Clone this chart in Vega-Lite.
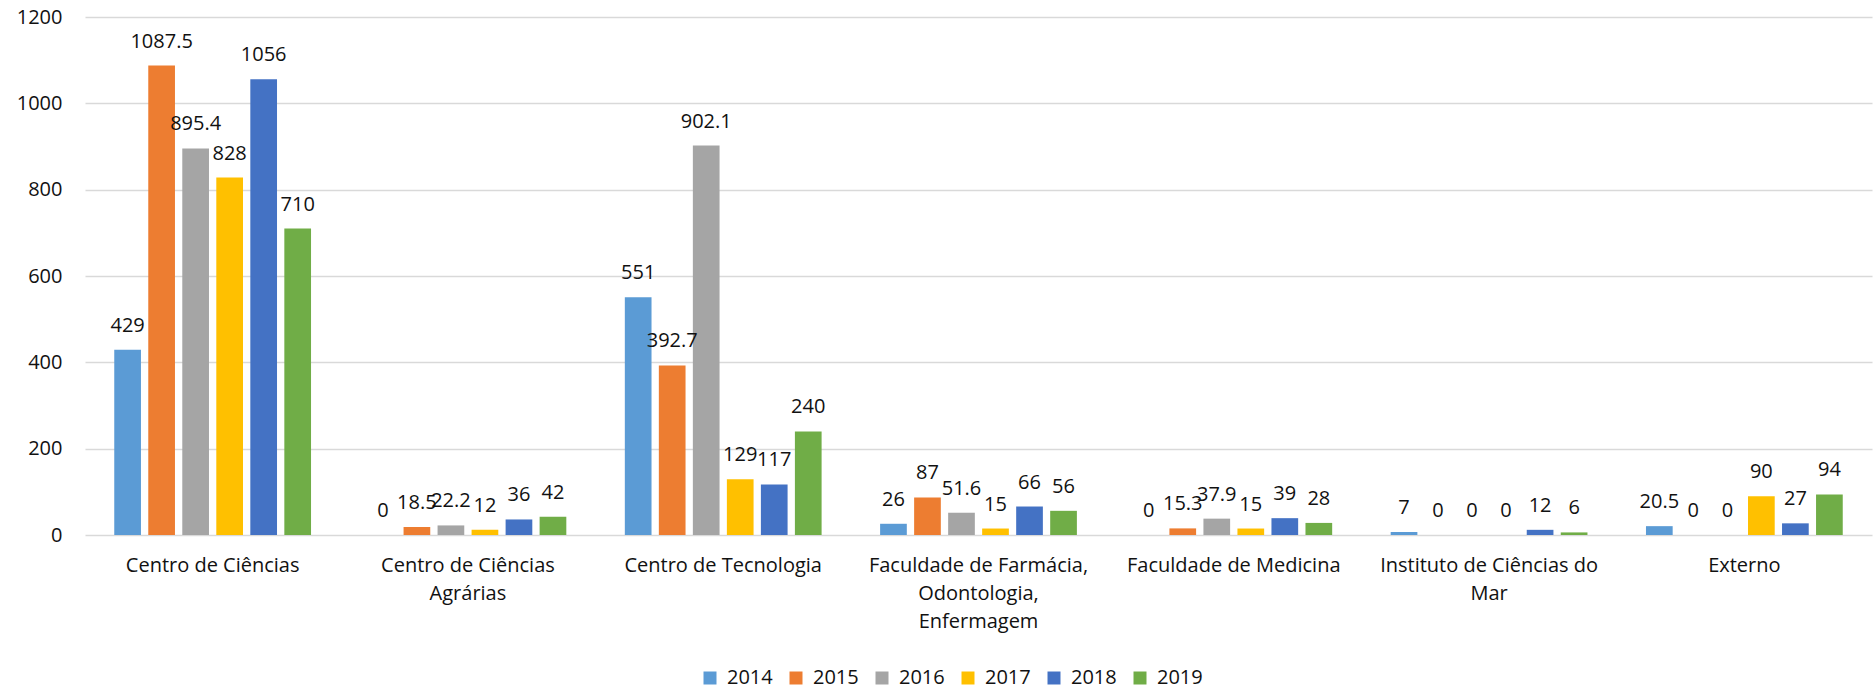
{
  "$schema": "https://vega.github.io/schema/vega-lite/v6.json",
  "autosize": {"type": "none"},
  "padding": {"left": 85, "top": 17, "right": 2, "bottom": 156},
  "width": 1787,
  "height": 518,
  "background": "white",
  "config": {
    "view": {"stroke": null},
    "font": "Open Sans",
    "text": {"font": "Open Sans"}
  },
  "data": {
    "values": [
      {"category": "Centro de Ciências", "year": "2014", "value": 429},
      {"category": "Centro de Ciências", "year": "2015", "value": 1087.5},
      {"category": "Centro de Ciências", "year": "2016", "value": 895.4},
      {"category": "Centro de Ciências", "year": "2017", "value": 828},
      {"category": "Centro de Ciências", "year": "2018", "value": 1056},
      {"category": "Centro de Ciências", "year": "2019", "value": 710},
      {"category": "Centro de Ciências Agrárias", "year": "2014", "value": 0},
      {"category": "Centro de Ciências Agrárias", "year": "2015", "value": 18.5},
      {"category": "Centro de Ciências Agrárias", "year": "2016", "value": 22.2},
      {"category": "Centro de Ciências Agrárias", "year": "2017", "value": 12},
      {"category": "Centro de Ciências Agrárias", "year": "2018", "value": 36},
      {"category": "Centro de Ciências Agrárias", "year": "2019", "value": 42},
      {"category": "Centro de Tecnologia", "year": "2014", "value": 551},
      {"category": "Centro de Tecnologia", "year": "2015", "value": 392.7},
      {"category": "Centro de Tecnologia", "year": "2016", "value": 902.1},
      {"category": "Centro de Tecnologia", "year": "2017", "value": 129},
      {"category": "Centro de Tecnologia", "year": "2018", "value": 117},
      {"category": "Centro de Tecnologia", "year": "2019", "value": 240},
      {"category": "Faculdade de Farmácia, Odontologia, Enfermagem", "year": "2014", "value": 26},
      {"category": "Faculdade de Farmácia, Odontologia, Enfermagem", "year": "2015", "value": 87},
      {"category": "Faculdade de Farmácia, Odontologia, Enfermagem", "year": "2016", "value": 51.6},
      {"category": "Faculdade de Farmácia, Odontologia, Enfermagem", "year": "2017", "value": 15},
      {"category": "Faculdade de Farmácia, Odontologia, Enfermagem", "year": "2018", "value": 66},
      {"category": "Faculdade de Farmácia, Odontologia, Enfermagem", "year": "2019", "value": 56},
      {"category": "Faculdade de Medicina", "year": "2014", "value": 0},
      {"category": "Faculdade de Medicina", "year": "2015", "value": 15.3},
      {"category": "Faculdade de Medicina", "year": "2016", "value": 37.9},
      {"category": "Faculdade de Medicina", "year": "2017", "value": 15},
      {"category": "Faculdade de Medicina", "year": "2018", "value": 39},
      {"category": "Faculdade de Medicina", "year": "2019", "value": 28},
      {"category": "Instituto de Ciências do Mar", "year": "2014", "value": 7},
      {"category": "Instituto de Ciências do Mar", "year": "2015", "value": 0},
      {"category": "Instituto de Ciências do Mar", "year": "2016", "value": 0},
      {"category": "Instituto de Ciências do Mar", "year": "2017", "value": 0},
      {"category": "Instituto de Ciências do Mar", "year": "2018", "value": 12},
      {"category": "Instituto de Ciências do Mar", "year": "2019", "value": 6},
      {"category": "Externo", "year": "2014", "value": 20.5},
      {"category": "Externo", "year": "2015", "value": 0},
      {"category": "Externo", "year": "2016", "value": 0},
      {"category": "Externo", "year": "2017", "value": 90},
      {"category": "Externo", "year": "2018", "value": 27},
      {"category": "Externo", "year": "2019", "value": 94}
    ]
  },
  "encoding": {
    "x": {
      "field": "category",
      "type": "nominal",
      "sort": null,
      "title": null,
      "scale": {"paddingInner": 0, "paddingOuter": 0},
      "axis": {
        "labelAngle": 0,
        "labelFont": "Open Sans",
        "labelFontSize": 20,
        "labelColor": "#111111",
        "labelLineHeight": 28,
        "labelPadding": 20,
        "labelLimit": 0,
        "domain": false,
        "ticks": false,
        "grid": false,
        "labelExpr": "datum.value == 'Centro de Ciências Agrárias' ? ['Centro de Ciências', 'Agrárias'] : datum.value == 'Faculdade de Farmácia, Odontologia, Enfermagem' ? ['Faculdade de Farmácia,', 'Odontologia,', 'Enfermagem'] : datum.value == 'Instituto de Ciências do Mar' ? ['Instituto de Ciências do', 'Mar'] : datum.value"
      }
    },
    "xOffset": {
      "field": "year",
      "type": "nominal",
      "scale": {"paddingInner": 0.215, "paddingOuter": 0.86}
    },
    "y": {
      "field": "value",
      "type": "quantitative",
      "title": null,
      "scale": {"domain": [0, 1200], "nice": false},
      "axis": {
        "values": [0, 200, 400, 600, 800, 1000, 1200],
        "format": "d",
        "labelFont": "Open Sans",
        "labelFontSize": 20,
        "labelColor": "#111111",
        "labelPadding": 23,
        "domain": false,
        "ticks": false,
        "grid": true,
        "gridColor": "#D9D9D9",
        "gridWidth": 1.7
      }
    }
  },
  "layer": [
    {
      "mark": {"type": "bar"},
      "encoding": {
        "color": {
          "field": "year",
          "type": "nominal",
          "title": null,
          "scale": {
            "domain": ["2014", "2015", "2016", "2017", "2018", "2019"],
            "range": ["#5B9BD5", "#ED7D31", "#A5A5A5", "#FFC000", "#4472C4", "#70AD47"]
          },
          "legend": {
            "orient": "none",
            "direction": "horizontal",
            "legendX": 615,
            "legendY": 651,
            "symbolType": "square",
            "symbolSize": 169,
            "symbolStrokeWidth": 0,
            "labelFont": "Open Sans",
            "labelFontSize": 20,
            "labelColor": "#111111",
            "labelOffset": 7,
            "columnPadding": 13,
            "padding": 0
          }
        }
      }
    },
    {
      "mark": {"type": "text", "baseline": "alphabetic", "align": "center", "dy": -18, "fontSize": 20, "font": "Open Sans", "color": "#111111"},
      "encoding": {
        "text": {"field": "value", "type": "quantitative"}
      }
    }
  ]
}
